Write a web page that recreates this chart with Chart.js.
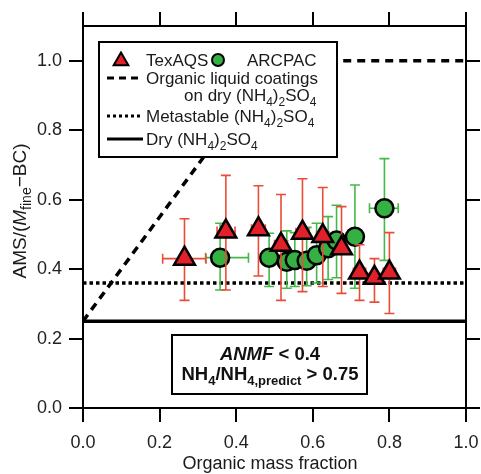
<!DOCTYPE html>
<html>
<head>
<meta charset="utf-8">
<script src="https://cdn.jsdelivr.net/npm/chart.js@4.4.1/dist/chart.umd.min.js"></script>
<style>
  html, body { margin: 0; padding: 0; background: #fff; }
  canvas { display: block; }
</style>
</head>
<body>
<canvas id="ratioChart" width="481" height="474"></canvas>
<script>
var FONT = '"Liberation Sans", Arial, Helvetica, sans-serif';

var xTicks = [0, 0.2, 0.4, 0.6, 0.8, 1.0];
var yTicks = [0, 0.2, 0.4, 0.6, 0.8, 1.0];

// TexAQS (red triangles)
var texOMF   = [0.265, 0.373, 0.458, 0.517, 0.573, 0.626, 0.675, 0.722, 0.761, 0.800];
var texRatio = [0.430, 0.508, 0.515, 0.470, 0.505, 0.495, 0.460, 0.390, 0.375, 0.390];
var texLo    = [0.310, 0.340, 0.380, 0.310, 0.335, 0.350, 0.330, 0.310, 0.305, 0.272];
var texHi    = [0.545, 0.670, 0.640, 0.615, 0.660, 0.635, 0.580, 0.470, 0.430, 0.505];
var texXLo   = [0.208, 0.350, 0.440, 0.500, 0.556, 0.610, 0.660, 0.706, 0.746, 0.784];
var texXHi   = [0.321, 0.397, 0.476, 0.534, 0.590, 0.642, 0.690, 0.738, 0.776, 0.816];

// ARCPAC (green circles)
var arcOMF   = [0.358, 0.486, 0.532, 0.553, 0.584, 0.610, 0.640, 0.662, 0.710, 0.787];
var arcRatio = [0.433, 0.433, 0.421, 0.426, 0.424, 0.440, 0.460, 0.482, 0.493, 0.575];
var arcLo    = [0.340, 0.350, 0.345, 0.350, 0.352, 0.360, 0.370, 0.375, 0.345, 0.425];
var arcHi    = [0.532, 0.503, 0.510, 0.505, 0.520, 0.532, 0.551, 0.584, 0.642, 0.718];
var arcXLo   = [0.320, 0.466, 0.514, 0.536, 0.566, 0.594, 0.624, 0.646, 0.692, 0.748];
var arcXHi   = [0.432, 0.506, 0.550, 0.570, 0.602, 0.626, 0.656, 0.678, 0.728, 0.823];

// reference lines
var coatingX = [0, 0.5, 1.0];
var coatingY = [0.25, 1.0, 1.0];
var metastableY = 0.36;
var dryY = 0.25;

function toPoints(xs, ys) {
  return xs.map(function (x, i) { return { x: x, y: ys[i] }; });
}

function toErrors(xs, ys, lo, hi, xlo, xhi) {
  return xs.map(function (x, i) {
    return { x: x, y: ys[i], yLo: lo[i], yHi: hi[i], xLo: xlo[i], xHi: xhi[i] };
  });
}

function fontFor(flags, size) {
  flags = flags || "";
  var s = flags.indexOf("s") >= 0 ? Math.round(size * 0.72) : size;
  return (flags.indexOf("i") >= 0 ? "italic " : "") +
    (flags.indexOf("b") >= 0 ? "bold " : "") + s + "px " + FONT;
}

// draws a run of text pieces, some of them subscripted, along one baseline
function drawRich(ctx, parts, x, y, size, align) {
  var w = 0;
  parts.forEach(function (p) {
    ctx.font = fontFor(p[1], size);
    w += ctx.measureText(p[0]).width;
  });
  var cx = align === "center" ? x - w / 2 : x;
  ctx.textAlign = "left";
  ctx.textBaseline = "alphabetic";
  parts.forEach(function (p) {
    ctx.font = fontFor(p[1], size);
    var dy = (p[1] || "").indexOf("s") >= 0 ? size * 0.28 : 0;
    ctx.fillText(p[0], cx, y + dy);
    cx += ctx.measureText(p[0]).width;
  });
}

function triangle(ctx, x, y, r) {
  ctx.beginPath();
  ctx.moveTo(x, y - r);
  ctx.lineTo(x + r * 0.866, y + r * 0.5);
  ctx.lineTo(x - r * 0.866, y + r * 0.5);
  ctx.closePath();
}

var errorBars = {
  id: "errorBars",
  beforeDatasetDraw: function (chart, args) {
    var ds = chart.data.datasets[args.index];
    if (!ds.errors) return;
    var ctx = chart.ctx, xs = chart.scales.x, ys = chart.scales.y;
    var a = chart.chartArea, cap = 5;
    ctx.save();
    ctx.beginPath();
    ctx.rect(a.left, a.top, a.right - a.left, a.bottom - a.top);
    ctx.clip();
    ctx.strokeStyle = ds.errorColor;
    ctx.lineWidth = 1.6;
    ds.errors.forEach(function (e) {
      var px = xs.getPixelForValue(e.x), py = ys.getPixelForValue(e.y);
      var top = ys.getPixelForValue(e.yHi), bot = ys.getPixelForValue(e.yLo);
      var l = xs.getPixelForValue(e.xLo), r = xs.getPixelForValue(e.xHi);
      ctx.beginPath();
      ctx.moveTo(px, top); ctx.lineTo(px, bot);
      ctx.moveTo(px - cap, top); ctx.lineTo(px + cap, top);
      ctx.moveTo(px - cap, bot); ctx.lineTo(px + cap, bot);
      ctx.moveTo(l, py); ctx.lineTo(r, py);
      ctx.moveTo(l, py - cap); ctx.lineTo(l, py + cap);
      ctx.moveTo(r, py - cap); ctx.lineTo(r, py + cap);
      ctx.stroke();
    });
    ctx.restore();
  }
};

var sub4 = ["4", "s"], sub2 = ["2", "s"];

var annotations = {
  id: "annotations",
  afterDatasetsDraw: function (chart) {
    var ctx = chart.ctx;
    ctx.save();

    // legend box
    ctx.fillStyle = "#fff";
    ctx.fillRect(99, 42, 238, 115);
    ctx.strokeStyle = "#000";
    ctx.lineWidth = 2;
    ctx.strokeRect(99, 42, 238, 115);

    ctx.lineWidth = 2;
    ctx.fillStyle = "#e2202a";
    triangle(ctx, 121, 61, 8.5);
    ctx.fill(); ctx.stroke();
    ctx.fillStyle = "#35b043";
    ctx.beginPath();
    ctx.arc(218, 60, 6, 0, Math.PI * 2);
    ctx.fill(); ctx.stroke();

    ctx.lineWidth = 3;
    ctx.setLineDash([7, 5]);
    ctx.beginPath(); ctx.moveTo(107, 78); ctx.lineTo(143, 78); ctx.stroke();
    ctx.setLineDash([3, 3]);
    ctx.beginPath(); ctx.moveTo(107, 116); ctx.lineTo(143, 116); ctx.stroke();
    ctx.setLineDash([]);
    ctx.beginPath(); ctx.moveTo(107, 139); ctx.lineTo(143, 139); ctx.stroke();

    ctx.fillStyle = "#1a1a1a";
    var fs = 17;
    drawRich(ctx, [["TexAQS"]], 146, 66, fs);
    drawRich(ctx, [["ARCPAC"]], 247, 66, fs);
    drawRich(ctx, [["Organic liquid coatings"]], 146, 84, fs);
    drawRich(ctx, [["on dry (NH"], sub4, [")"], sub2, ["SO"], sub4], 184, 101, fs);
    drawRich(ctx, [["Metastable (NH"], sub4, [")"], sub2, ["SO"], sub4], 146, 122, fs);
    drawRich(ctx, [["Dry (NH"], sub4, [")"], sub2, ["SO"], sub4], 146, 145, fs);

    // condition box
    ctx.fillStyle = "#fff";
    ctx.fillRect(172, 335, 195, 59);
    ctx.lineWidth = 2;
    ctx.strokeRect(172, 335, 195, 59);
    ctx.fillStyle = "#111";
    drawRich(ctx, [["ANMF", "bi"], [" < 0.4", "b"]], 270, 360, 18.5, "center");
    drawRich(ctx, [["NH", "b"], ["4", "bs"], ["/NH", "b"], ["4,predict", "bs"], [" > 0.75", "b"]],
      270, 380, 18.5, "center");

    // axis titles
    ctx.fillStyle = "#1a1a1a";
    drawRich(ctx, [["Organic mass fraction"]], 270, 469, 18, "center");
    ctx.translate(26, 211);
    ctx.rotate(-Math.PI / 2);
    drawRich(ctx, [["AMS/("], ["M", "i"], ["fine", "s"], ["\u2212BC)"]], 0, 0, 19, "center");
    ctx.restore();
  }
};

function axis(pos, size, showLabels, ticks) {
  var horizontal = pos === "top" || pos === "bottom";
  return {
    type: "linear",
    axis: horizontal ? "x" : "y",
    position: pos,
    min: 0,
    max: horizontal ? 1.0 : 1.1,
    afterBuildTicks: function (s) {
      s.ticks = ticks.map(function (v) { return { value: v }; });
    },
    afterFit: function (s) {
      if (horizontal) s.height = size; else s.width = size;
      // keep the plot frame fixed; edge labels may overhang
      s.paddingLeft = s.paddingRight = s.paddingTop = s.paddingBottom = 0;
    },
    border: { display: true, color: "#000", width: 2 },
    grid: { drawOnChartArea: false, drawTicks: true, tickLength: 14, color: "#000", lineWidth: 2 },
    ticks: {
      display: showLabels,
      padding: horizontal ? 10 : 7,
      color: "#222",
      font: { size: 18, family: FONT },
      callback: function (v) { return Number(v).toFixed(1); }
    }
  };
}

var ctx = document.getElementById("ratioChart").getContext("2d");
var ratioChart = new Chart(ctx, {
  type: "scatter",
  data: {
    datasets: [
      {
        label: "TexAQS",
        order: 0,
        data: toPoints(texOMF, texRatio),
        errors: toErrors(texOMF, texRatio, texLo, texHi, texXLo, texXHi),
        errorColor: "#eb4c38",
        pointStyle: "triangle",
        pointRadius: 12,
        pointBackgroundColor: "#e2202a",
        pointBorderColor: "#000",
        pointBorderWidth: 2.5
      },
      {
        label: "ARCPAC",
        order: 1,
        data: toPoints(arcOMF, arcRatio),
        errors: toErrors(arcOMF, arcRatio, arcLo, arcHi, arcXLo, arcXHi),
        errorColor: "#46b84a",
        pointStyle: "circle",
        pointRadius: 9,
        pointBackgroundColor: "#35b043",
        pointBorderColor: "#000",
        pointBorderWidth: 2.5
      },
      {
        label: "Organic liquid coatings on dry (NH4)2SO4",
        order: 2,
        data: toPoints(coatingX, coatingY),
        showLine: true,
        pointRadius: 0,
        borderColor: "#000",
        borderWidth: 3.5,
        borderDash: [8, 6]
      },
      {
        label: "Metastable (NH4)2SO4",
        order: 3,
        data: toPoints([0, 1], [metastableY, metastableY]),
        showLine: true,
        pointRadius: 0,
        borderColor: "#000",
        borderWidth: 3.5,
        borderDash: [3.5, 3]
      },
      {
        label: "Dry (NH4)2SO4",
        order: 4,
        data: toPoints([0, 1], [dryY, dryY]),
        showLine: true,
        pointRadius: 0,
        borderColor: "#000",
        borderWidth: 3.5
      }
    ]
  },
  options: {
    responsive: false,
    animation: false,
    devicePixelRatio: 1,
    layout: { padding: 0 },
    plugins: {
      legend: { display: false },
      tooltip: { enabled: false }
    },
    scales: {
      x: axis("bottom", 66, true, xTicks),
      x2: axis("top", 26, false, xTicks),
      y: axis("left", 83, true, yTicks),
      y2: axis("right", 15, false, yTicks)
    }
  },
  plugins: [errorBars, annotations]
});
</script>
</body>
</html>
